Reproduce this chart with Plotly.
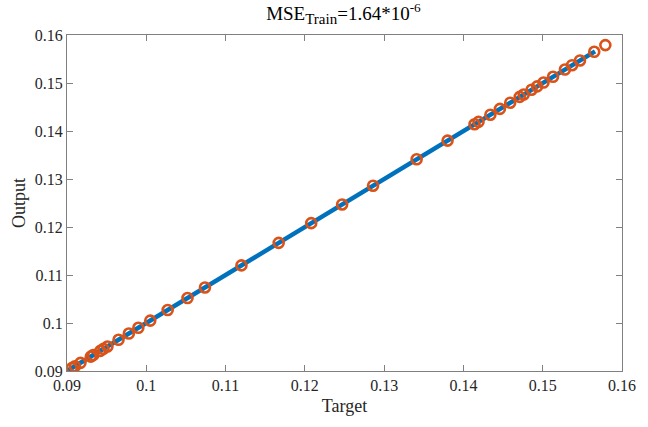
import plotly.graph_objects as go

# Training samples: network target vs network output
target = [0.0906, 0.0910, 0.0917, 0.0930, 0.0933, 0.0942, 0.0946, 0.0951,
          0.0965, 0.0978, 0.0990, 0.1005, 0.1027, 0.1052, 0.1074, 0.1120,
          0.1167, 0.1208, 0.1247, 0.1286, 0.1341, 0.1380, 0.1414, 0.1419,
          0.1434, 0.1446, 0.1459, 0.1471, 0.1476, 0.1486, 0.1493, 0.1501,
          0.1513, 0.1528, 0.1537, 0.1547, 0.1565, 0.1579]
output = [0.0906, 0.0910, 0.0917, 0.0930, 0.0933, 0.0942, 0.0946, 0.0951,
          0.0965, 0.0978, 0.0990, 0.1005, 0.1027, 0.1052, 0.1074, 0.1120,
          0.1167, 0.1208, 0.1247, 0.1286, 0.1341, 0.1380, 0.1414, 0.1419,
          0.1434, 0.1446, 0.1459, 0.1471, 0.1476, 0.1486, 0.1493, 0.1501,
          0.1513, 0.1528, 0.1537, 0.1547, 0.1565, 0.1579]

# Ideal-fit reference line (Output = Target)
fit_x = [0.0900, 0.1566]
fit_y = [0.0900, 0.1566]

tick_vals = [0.09, 0.10, 0.11, 0.12, 0.13, 0.14, 0.15, 0.16]
tick_text = ["0.09", "0.1", "0.11", "0.12", "0.13", "0.14", "0.15", "0.16"]

blue = "#0072BD"
orange = "#D95319"
axis_gray = "#808080"
font_family = "Liberation Serif, Times New Roman, serif"

fig = go.Figure()
fig.add_trace(go.Scatter(
    x=fit_x, y=fit_y, mode="lines",
    line=dict(color=blue, width=4.5),
    showlegend=False, hoverinfo="skip",
))
fig.add_trace(go.Scatter(
    x=target, y=output, mode="markers",
    marker=dict(symbol="circle-open", size=10, color=orange,
                line=dict(color=orange, width=2.6)),
    showlegend=False,
))

axis_common = dict(
    range=[0.09, 0.16],
    tickvals=tick_vals,
    ticktext=tick_text,
    ticks="inside",
    ticklen=6,
    tickwidth=1,
    tickcolor=axis_gray,
    showline=True,
    linecolor=axis_gray,
    linewidth=1,
    mirror="allticks",
    showgrid=False,
    zeroline=False,
    tickfont=dict(family=font_family, size=16, color="#262626"),
)

fig.update_layout(
    width=648, height=427,
    margin=dict(l=67, r=18, t=35, b=56),
    paper_bgcolor="white",
    plot_bgcolor="white",
    title=dict(
        text="MSE<sub><span style='font-size:15px'>Train</span></sub>=1.64*10<sup>-6</sup>",
        x=0.53, xanchor="center", y=0.985, yanchor="top",
        font=dict(family=font_family, size=19, color="#000000"),
    ),
    xaxis=dict(**axis_common,
               title=dict(text="Target", standoff=6,
                          font=dict(family=font_family, size=18, color="#262626"))),
    yaxis=dict(**axis_common,
               title=dict(text="Output", standoff=4,
                          font=dict(family=font_family, size=18, color="#262626"))),
)

fig.write_html("out.html")
